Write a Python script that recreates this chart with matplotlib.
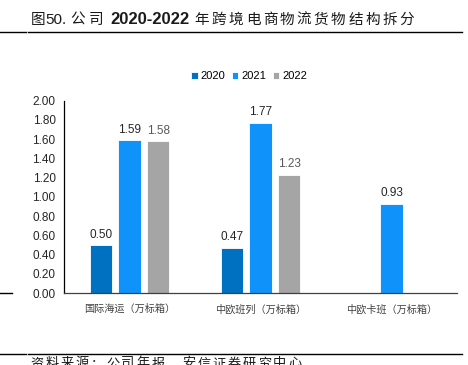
import matplotlib
matplotlib.use("Agg")
import matplotlib.pyplot as plt
import numpy as np
from matplotlib.lines import Line2D

categories = ["国际海运（万标箱）", "中欧班列（万标箱）", "中欧卡班（万标箱）"]
series_names = ["2020", "2021", "2022"]
v2020 = [0.50, 0.47, None]
v2021 = [1.59, 1.77, 0.93]
v2022 = [1.58, 1.23, None]
yticks = [0.00, 0.20, 0.40, 0.60, 0.80, 1.00, 1.20, 1.40, 1.60, 1.80, 2.00]
title_a = "图"
title_b = "50."
title_c = "公司"
title_d = "2020-2022"
title_e = "年跨境电商物流货物结构拆分"
source = "资料来源：公司年报，安信证券研究中心"

colors = ["#0070C0", "#1092FB", "#A5A5A5"]
label_colors = ["#262626", "#262626", "#595959"]

cjk = ["Noto Sans CJK SC", "DejaVu Sans"]
lat = ["Liberation Sans", "DejaVu Sans"]

fig = plt.figure(figsize=(4.68, 3.65), dpi=100)
ax = fig.add_axes([64/468, 1-293/365, (457-64)/468, (293-100.7)/365])

x = np.arange(len(categories))
w = 0.168
step = 0.218
for i, (vals, name) in enumerate(zip([v2020, v2021, v2022], series_names)):
    xs = [xi + (i-1)*step for xi, v in zip(x, vals) if v is not None]
    vs = [v for v in vals if v is not None]
    bars = ax.bar(xs, vs, width=w, color=colors[i], edgecolor="white", linewidth=0.6, label=name, zorder=2)
    for b, v in zip(bars, vs):
        ax.text(b.get_x()+b.get_width()/2, v+0.045, f"{v:.2f}", ha="center", va="bottom",
                fontsize=8.5, color=label_colors[i], family=lat)

ax.set_xlim(-0.5, 2.5)
ax.set_ylim(0, 2.0)
ax.set_yticks(yticks)
ax.set_yticklabels([f"{t:.2f}" for t in yticks], family=lat, fontsize=8.5, color="#262626")
ax.set_xticks(x)
ax.set_xticklabels(categories, family=cjk, fontsize=7.3, color="#404040")
ax.tick_params(axis="both", length=0)
ax.tick_params(axis="y", pad=6)
ax.tick_params(axis="x", pad=8)
for s in ["top", "right"]:
    ax.spines[s].set_visible(False)
ax.spines["left"].set_color("#000000")
ax.spines["left"].set_linewidth(0.9)
ax.spines["bottom"].set_color("#404040")
ax.spines["bottom"].set_linewidth(0.9)

leg = ax.legend(loc="upper left", bbox_to_anchor=((187-64)/393, 1+(100.7-67)/192.3), ncol=3,
                frameon=False, prop={"family": lat, "size": 8}, handlelength=0.55, handleheight=0.55,
                handletextpad=0.3, columnspacing=0.6, borderaxespad=0)

# overlay for title and decorations
ov = fig.add_axes([0, 0, 1, 1], facecolor="none")
ov.set_xlim(0, 468)
ov.set_ylim(365, 0)
ov.axis("off")


def chain(prev, s, gap_pt, **kw):
    for ch in s:
        prev = ov.annotate(ch, xy=(1, 0), xycoords=prev, xytext=(gap_pt, 0),
                           textcoords="offset points", va="bottom", ha="left", **kw)
    return prev


tc = "#1a1a1a"
t = ov.text(31, 20, title_a, family=cjk, fontsize=10.5, color=tc, va="center", ha="left")
t = ov.annotate(title_b, xy=(1, 0), xycoords=t, va="bottom", ha="left",
                family=lat, fontsize=11, color=tc)
t = chain(t, title_c, 2.5, family=cjk, fontsize=10.5, color=tc)
t = ov.annotate(title_d, xy=(1, 0), xycoords=t, xytext=(5, 0), textcoords="offset points",
                va="bottom", ha="left", family=lat, fontsize=12, fontweight="bold", color=tc)
t = ov.annotate(title_e[0], xy=(1, 0), xycoords=t, xytext=(4, 0), textcoords="offset points",
                va="bottom", ha="left", family=cjk, fontsize=10.5, color=tc)
t = chain(t, title_e[1:], 1.75, family=cjk, fontsize=10.5, color=tc)

ov.add_line(Line2D([0, 26], [32, 32], color="black", lw=1.0))
ov.add_line(Line2D([28, 462], [32, 32], color="black", lw=1.0))
ov.add_line(Line2D([0, 12], [293, 293], color="black", lw=1.0))
ov.add_line(Line2D([0, 26], [354, 354], color="black", lw=1.0))
ov.add_line(Line2D([28, 462], [354, 354], color="black", lw=1.0))

s = ov.text(30, 364, source[0], family=cjk, fontsize=9.5, color=tc, va="center", ha="left")
chain(s, source[1:], 1.4, family=cjk, fontsize=9.5, color=tc)

fig.savefig("out.png", dpi=100)
